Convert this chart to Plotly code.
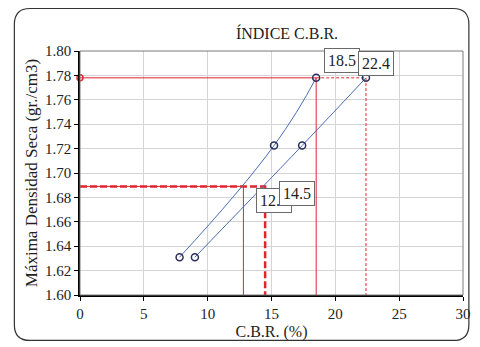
import plotly.graph_objects as go

# CBR test results: two compaction series
cbr_a = [7.8, 15.2, 18.5]
dens_a = [1.631, 1.7225, 1.778]
cbr_b = [9.0, 17.4, 22.4]
dens_b = [1.631, 1.7225, 1.778]

# Reference densities and the CBR values read at them
dens_max = 1.778
dens_95 = 1.689
cbr_max = [18.5, 22.4]
cbr_95 = [12.8, 14.5]

x_ticks = [0, 5, 10, 15, 20, 25, 30]
y_ticks = [1.60, 1.62, 1.64, 1.66, 1.68, 1.70, 1.72, 1.74, 1.76, 1.78, 1.80]

RED = "#e0252f"
BLUE = "#4a6cb3"
NAVY = "#2a2f5a"
FONT = "Liberation Serif"
y0 = 1.60

fig = go.Figure()

# reference lines at maximum dry density
fig.add_trace(go.Scatter(x=[0, cbr_max[0], cbr_max[0]], y=[dens_max, dens_max, y0],
                         mode="lines", line=dict(color=RED, width=1), hoverinfo="skip"))
fig.add_trace(go.Scatter(x=[cbr_max[0], cbr_max[1], cbr_max[1]], y=[dens_max, dens_max, y0],
                         mode="lines", line=dict(color=RED, width=1, dash="3px,2px"), hoverinfo="skip"))
fig.add_trace(go.Scatter(x=[0], y=[dens_max], mode="markers", cliponaxis=False,
                         marker=dict(symbol="circle-open", size=6, color=RED, line=dict(width=1.5)),
                         hoverinfo="skip"))

# reference lines at 95% density
fig.add_trace(go.Scatter(x=[0, cbr_95[0], cbr_95[0]], y=[dens_95, dens_95, y0],
                         mode="lines", line=dict(color=RED, width=1), hoverinfo="skip"))
fig.add_trace(go.Scatter(x=[0, cbr_95[1], cbr_95[1]], y=[dens_95, dens_95, y0],
                         mode="lines", line=dict(color=RED, width=2.5, dash="7px,3px"), hoverinfo="skip"))

# smoothed test curves
for xs, ys in [(cbr_a, dens_a), (cbr_b, dens_b)]:
    fig.add_trace(go.Scatter(x=xs, y=ys, mode="lines+markers", cliponaxis=False,
                             line=dict(color=BLUE, width=1, shape="spline", smoothing=1.3),
                             marker=dict(symbol="circle-open", size=7, color=NAVY, line=dict(width=1.5)),
                             hoverinfo="skip"))

box = dict(showarrow=False, bgcolor="white", bordercolor="#6a6a6a", borderwidth=1,
           borderpad=3, font=dict(family=FONT, size=16, color="#222"))
fig.add_annotation(x=cbr_max[0], y=dens_max, text=f"{cbr_max[0]}", xshift=26, yshift=17, **box)
fig.add_annotation(x=cbr_max[1], y=dens_max, text=f"{cbr_max[1]}", xshift=10, yshift=14, **box)
fig.add_annotation(x=cbr_95[0], y=dens_95, text=f"{cbr_95[0]}", xshift=31, yshift=-14, **box)
fig.add_annotation(x=cbr_95[1], y=dens_95, text=f"{cbr_95[1]}", xshift=32, yshift=-7, **box)

# outer rounded frame of the chart
L, T, R, B = 13, 8, 477, 344
pl, pt, pw, ph = 80, 51, 391, 247
def px(v):
    return (v - pl) / pw
def py(v):
    return (pt + ph - v) / ph
r = 16
path = (f"M {px(L + r)},{py(T)} L {px(R - r)},{py(T)} "
        f"Q {px(R)},{py(T)} {px(R)},{py(T + r)} L {px(R)},{py(B - r)} "
        f"Q {px(R)},{py(B)} {px(R - r)},{py(B)} L {px(L + r)},{py(B)} "
        f"Q {px(L)},{py(B)} {px(L)},{py(B - r)} L {px(L)},{py(T + r)} "
        f"Q {px(L)},{py(T)} {px(L + r)},{py(T)} Z")
fig.add_shape(type="path", xref="paper", yref="paper", path=path,
              line=dict(color="#333", width=1.2), layer="below")

# plot-area border (top and right)
fig.add_shape(type="rect", xref="paper", yref="paper", x0=0, y0=0, x1=1, y1=1,
              line=dict(color="#7a7a7a", width=1), layer="above")

fig.update_layout(
    width=480, height=347,
    margin=dict(l=pl, r=480 - pl - pw, t=pt, b=347 - pt - ph),
    paper_bgcolor="white", plot_bgcolor="white",
    showlegend=False,
    font=dict(family=FONT, size=15, color="#222"),
    title=dict(text="ÍNDICE C.B.R.", x=287 / 480, xanchor="center", y=1 - 33 / 347, yanchor="middle",
               font=dict(family=FONT, size=16, color="#222")),
)
fig.update_xaxes(range=[0, 30], tickvals=x_ticks, ticktext=[str(v) for v in x_ticks],
                 showgrid=True, gridcolor="#d4d4d4", gridwidth=1,
                 showline=True, linecolor="black", linewidth=1.5,
                 ticks="outside", ticklen=4, tickcolor="black",
                 tickfont=dict(family=FONT, size=15), zeroline=False,
                 title=dict(text="C.B.R. (%)", font=dict(family=FONT, size=16), standoff=5))
fig.update_yaxes(range=[1.60, 1.80], tickvals=y_ticks, ticktext=[f"{v:.2f}" for v in y_ticks],
                 showgrid=True, gridcolor="#d4d4d4", gridwidth=1,
                 showline=True, linecolor="black", linewidth=1.5,
                 ticks="outside", ticklen=4, tickcolor="black",
                 tickfont=dict(family=FONT, size=15), zeroline=False,
                 title=dict(text="Máxima Densidad Seca (gr./cm3)", font=dict(family=FONT, size=17), standoff=3))

fig.write_html("out.html")
